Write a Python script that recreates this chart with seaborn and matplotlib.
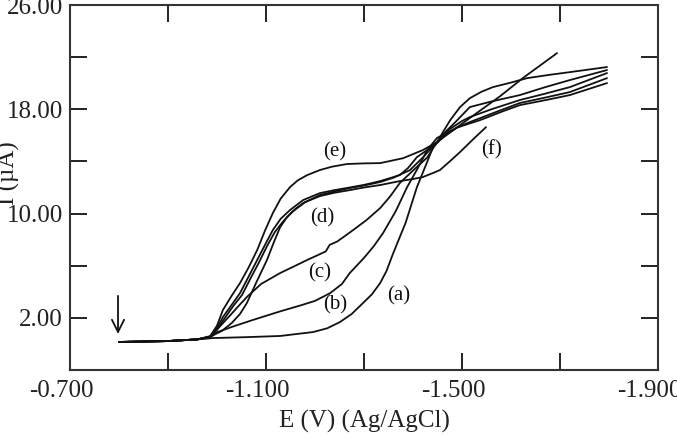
import numpy as np
import pandas as pd
import matplotlib
matplotlib.use("Agg")
import matplotlib.pyplot as plt
import matplotlib.transforms as mtrans
import seaborn as sns

# ---- data (E in V vs Ag/AgCl, I in microampere) ----
E_a = [-0.80, -0.90, -0.96, -0.992, -1.06, -1.129, -1.196, -1.225, -1.251, -1.275, -1.298, -1.316, -1.333, -1.346, -1.359, -1.385, -1.408, -1.425, -1.441, -1.465, -1.49, -1.516, -1.57, -1.618, -1.67, -1.72, -1.796]
I_a = [0.15, 0.22, 0.35, 0.45, 0.52, 0.61, 0.91, 1.2, 1.68, 2.3, 3.14, 3.8, 4.67, 5.6, 6.9, 9.3, 12.03, 13.6, 15.1, 16.02, 16.6, 17.02, 17.8, 18.48, 18.9, 19.32, 20.39]

E_b = [-0.80, -0.90, -0.96, -0.986, -1.00, -1.03, -1.07, -1.129, -1.17, -1.20, -1.231, -1.255, -1.271, -1.30, -1.32, -1.339, -1.365, -1.388, -1.41, -1.429, -1.449, -1.49, -1.537, -1.58, -1.618, -1.67, -1.72, -1.796]
I_b = [0.15, 0.22, 0.35, 0.5, 0.9, 1.3, 1.8, 2.5, 2.95, 3.3, 3.9, 4.6, 5.44, 6.6, 7.5, 8.51, 10.2, 12.03, 13.5, 14.87, 15.8, 16.6, 17.17, 17.8, 18.32, 18.7, 19.09, 20.01]

E_c = [-0.80, -0.90, -0.96, -0.986, -1.0, -1.027, -1.045, -1.061, -1.09, -1.129, -1.16, -1.184, -1.205, -1.222, -1.230, -1.245, -1.26, -1.278, -1.305, -1.333, -1.353, -1.373, -1.40, -1.429, -1.449, -1.467, -1.486, -1.516, -1.56, -1.618, -1.67, -1.72, -1.796]
I_c = [0.15, 0.22, 0.35, 0.55, 1.1, 2.2, 2.95, 3.6, 4.6, 5.44, 6.0, 6.44, 6.8, 7.1, 7.6, 7.85, 8.25, 8.74, 9.5, 10.42, 11.3, 12.34, 13.3, 14.3, 15.48, 16.3, 17.0, 18.17, 18.6, 19.09, 19.7, 20.24, 21.01]

E_d = [-0.80, -0.90, -0.96, -0.986, -1.0, -1.012, -1.03, -1.047, -1.065, -1.082, -1.098, -1.114, -1.13, -1.149, -1.176, -1.21, -1.24, -1.265, -1.30, -1.333, -1.373, -1.39, -1.408, -1.43, -1.449, -1.476, -1.50, -1.516, -1.56, -1.618, -1.67, -1.72, -1.796]
I_d = [0.15, 0.22, 0.35, 0.55, 1.2, 2.06, 3.0, 3.9, 5.2, 6.44, 7.6, 8.74, 9.6, 10.27, 11.04, 11.57, 11.8, 11.96, 12.2, 12.49, 12.95, 13.5, 14.33, 14.9, 15.48, 16.5, 17.1, 17.4, 18.0, 18.71, 19.2, 19.7, 20.78]

E_d2 = [-0.80, -0.90, -0.96, -0.986, -1.01, -1.03, -1.047, -1.061, -1.08, -1.102, -1.116, -1.129, -1.143, -1.16, -1.176, -1.21, -1.24, -1.271, -1.30, -1.333, -1.36, -1.394, -1.42, -1.449, -1.516, -1.578, -1.624, -1.694]
I_d2 = [0.15, 0.22, 0.35, 0.55, 1.0, 1.6, 2.3, 3.14, 4.7, 6.44, 7.8, 8.97, 9.73, 10.35, 10.81, 11.42, 11.7, 11.96, 12.15, 12.42, 12.75, 13.34, 14.3, 15.48, 17.33, 19.01, 20.39, 22.31]

E_e = [-0.80, -0.90, -0.96, -0.986, -1.0, -1.012, -1.03, -1.047, -1.065, -1.082, -1.098, -1.114, -1.13, -1.149, -1.165, -1.184, -1.21, -1.235, -1.265, -1.30, -1.333, -1.38, -1.42, -1.449, -1.462, -1.476, -1.496, -1.516, -1.54, -1.563, -1.60, -1.633, -1.68, -1.72, -1.796]
I_e = [0.15, 0.22, 0.35, 0.6, 1.4, 2.6, 3.7, 4.67, 5.9, 7.2, 8.7, 10.04, 11.15, 12.03, 12.55, 12.95, 13.34, 13.6, 13.8, 13.85, 13.87, 14.25, 14.87, 15.48, 16.3, 17.17, 18.17, 18.85, 19.35, 19.7, 20.05, 20.39, 20.65, 20.85, 21.24]

E_f = [-0.80, -0.90, -0.96, -0.986, -1.0, -1.016, -1.033, -1.051, -1.068, -1.086, -1.102, -1.118, -1.135, -1.153, -1.18, -1.21, -1.24, -1.271, -1.30, -1.333, -1.373, -1.40, -1.42, -1.44, -1.455, -1.475, -1.496, -1.52, -1.549]
I_f = [0.15, 0.22, 0.35, 0.55, 1.1, 1.99, 2.9, 3.75, 5.0, 6.28, 7.5, 8.58, 9.4, 10.12, 10.88, 11.34, 11.6, 11.8, 12.0, 12.19, 12.49, 12.65, 12.8, 13.1, 13.34, 14.0, 14.72, 15.6, 16.63]

curve_labels = ["(a)", "(b)", "(c)", "(d)", "(e)", "(f)"]
label_E = [-1.371, -1.241, -1.210, -1.214, -1.241, -1.561]
label_I = [3.67, 2.98, 5.44, 9.66, 14.72, 14.87]

arrow_E = -0.798
arrow_I_from = 3.9
arrow_I_to = 0.55

x_ticks = [-0.7, -0.9, -1.1, -1.3, -1.5, -1.7, -1.9]
x_ticklabels = ["-0.700", "", "-1.100", "", "-1.500", "", "-1.900"]
y_ticks = [-2, 2, 6, 10, 14, 18, 22, 26]
y_ticklabels = ["", "2.00", "", "10.00", "", "18.00", "", "26.00"]

# ---- build long table ----
frames = []
for name, E, I in [("a", E_a, I_a), ("b", E_b, I_b), ("c", E_c, I_c), ("d", E_d, I_d),
                   ("d2", E_d2, I_d2), ("e", E_e, I_e), ("f", E_f, I_f)]:
    frames.append(pd.DataFrame({"E": E, "I": I, "curve": name}))
df = pd.concat(frames, ignore_index=True)

sns.set_style("ticks")
plt.rcParams["font.family"] = ["Liberation Serif", "DejaVu Serif"]

fig = plt.figure(figsize=(6.77, 4.38), dpi=100)
ax = fig.add_axes([70 / 677, 1 - 370 / 438, 588 / 677, 365 / 438])

sns.lineplot(data=df, x="E", y="I", units="curve", estimator=None, sort=False,
             color="#111111", linewidth=1.3, ax=ax, legend=False)

for t, e, i in zip(curve_labels, label_E, label_I):
    ax.text(e, i, t, ha="center", va="center", fontsize=15, color="#111111")

ax.annotate("", xy=(arrow_E, arrow_I_to), xytext=(arrow_E, arrow_I_from),
            arrowprops=dict(arrowstyle="->", lw=1.3, color="#111111", mutation_scale=22))

ax.set_xlim(-0.7, -1.9)
ax.set_ylim(-2, 26)
ax.set_xticks(x_ticks)
ax.set_xticklabels(x_ticklabels)
ax.set_yticks(y_ticks)
ax.set_yticklabels(y_ticklabels)
ax.tick_params(direction="in", length=12, width=1.4, labelsize=18, colors="#222222",
               top=True, right=True)
ax.tick_params(axis="x", pad=7)
ax.tick_params(axis="y", pad=5)
for s in ax.spines.values():
    s.set_linewidth(1.5)
    s.set_color("#333333")

offset = mtrans.ScaledTranslation(-9 / 100, 0, fig.dpi_scale_trans)
for lab in ax.get_xticklabels():
    lab.set_transform(lab.get_transform() + offset)

ax.set_xlabel("E (V) (Ag/AgCl)", fontsize=18, color="#222222", labelpad=6)
ax.set_ylabel("I (µA)", fontsize=18, color="#222222")
ax.yaxis.set_label_coords(-0.085, 0.54)

fig.savefig("out.png", dpi=100)
